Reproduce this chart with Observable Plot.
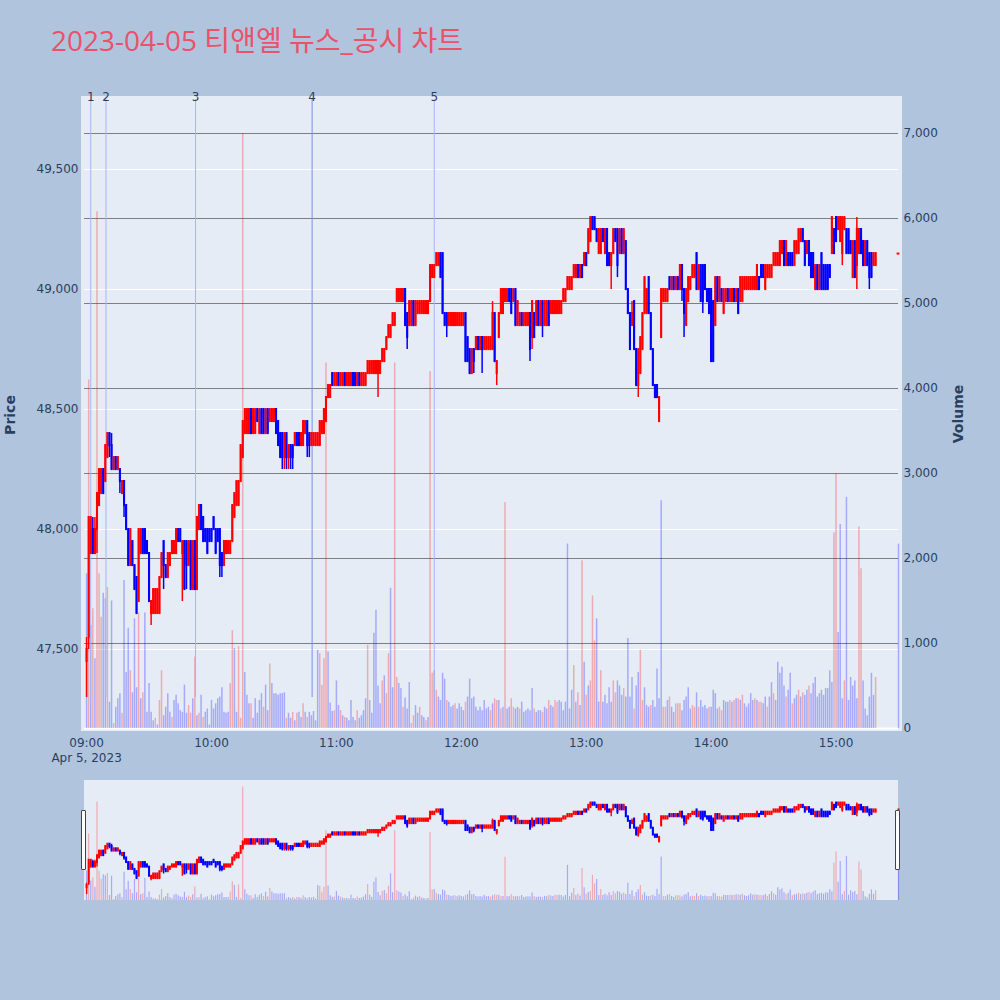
<!DOCTYPE html>
<html><head><meta charset="utf-8">
<script src="https://cdn.jsdelivr.net/npm/d3@7"></script>
<script src="https://cdn.jsdelivr.net/npm/@observablehq/plot@0.6"></script>
<style>
body{margin:0;background:#b0c4de;}
#wrap{position:relative;width:1000px;height:1000px;background:#b0c4de;overflow:hidden;font-family:"DejaVu Sans",Verdana,sans-serif;color:#2a3f5f}
.layer{position:absolute;left:0;}
.layer svg{overflow:visible;display:block}
.bg{position:absolute;background:#e5ecf6}
#title{position:absolute;left:51px;top:26px;font-family:"Open Sans","Noto Sans CJK KR",sans-serif;font-size:28px;line-height:28px;color:#ec5169;white-space:nowrap}
.atitle{position:absolute;font-weight:bold;font-size:14px;white-space:nowrap;transform:translate(-50%,-50%) rotate(-90deg)}
.handle{position:absolute;width:5px;height:60px;box-sizing:border-box;background:#fff;border:1px solid #444;border-radius:1px}
</style></head><body>
<div id="wrap">
  <div id="title"></div>
  <div class="bg" style="left:81px;top:96px;width:821px;height:635px"></div>
  <div class="bg" style="left:84px;top:780px;width:814px;height:120px"></div>
  <div class="layer" id="lA" style="top:0"></div>
  <div class="layer" id="lB" style="top:0"></div>
  <div class="layer" id="lC" style="top:0"></div>
  <div class="layer" id="sB" style="top:780px"></div>
  <div class="layer" id="sC" style="top:780px"></div>
  <div class="handle" style="left:81px;top:810px"></div>
  <div class="handle" style="left:895px;top:810px"></div>
  <div class="atitle" id="yTitle" style="left:10px;top:415px"></div>
  <div class="atitle" id="y2Title" style="left:958px;top:414px"></div>
</div>
<script>
const titleText = "2023-04-05 티앤엘 뉴스_공시 차트";
const priceLabel = "Price";
const volumeLabel = "Volume";
const dateLabel = "Apr 5, 2023";
const timeTicks = ["09:00","10:00","11:00","12:00","13:00","14:00","15:00"];
const priceTicks = [47500, 48000, 48500, 49000, 49500];
const volumeTicks = [0, 1000, 2000, 3000, 4000, 5000, 6000, 7000];
const newsTimes = ["09:02:00","09:09:20","09:52:20","10:48:20","11:47:00"];
const newsLabels = ["1","2","3","4","5"];
const sessionStart = "09:00";
const closeAuction = "15:30";

// one-minute candles 09:00..15:19, then the 15:30 closing auction
const O = [
47450,47550,47900,48000,47900,48000,48100,48150,48250,48200,
48300,48400,48350,48250,48300,48250,48250,48150,48200,48100,
48000,47850,47950,47850,47800,47700,47900,48000,48000,47950,
47900,47650,47650,47650,47650,47650,47800,47950,47850,47800,
47850,47900,47900,47900,48000,48000,47900,47950,47950,47850,
47950,47750,47950,47750,48000,48100,48050,48000,48000,48000,
48000,48050,48000,48000,48000,47900,47850,47900,47900,47900,
47950,48050,48100,48100,48200,48300,48400,48400,48400,48500,
48400,48400,48500,48400,48500,48500,48400,48500,48450,48450,
48450,48500,48450,48400,48400,48300,48400,48300,48350,48350,
48350,48400,48400,48350,48350,48400,48450,48400,48350,48350,
48350,48350,48350,48400,48400,48450,48550,48550,48650,48600,
48600,48650,48600,48600,48650,48600,48600,48600,48650,48650,
48600,48650,48600,48600,48600,48650,48650,48650,48650,48650,
48650,48650,48700,48700,48750,48800,48800,48850,48850,48950,
48950,48950,48950,49000,48900,48850,48850,48950,48850,48900,
48900,48900,48900,48900,48900,48950,49050,49050,49100,49100,
49150,49150,48900,48900,48850,48850,48850,48850,48850,48850,
48850,48850,48900,48800,48750,48650,48750,48750,48800,48750,
48800,48750,48750,48750,48750,48750,48900,48650,48800,48900,
48900,48950,48950,49000,49000,48950,49000,48850,48850,48900,
48850,48850,48850,48900,48800,48900,48850,48950,48850,48950,
48850,48850,48950,48900,48900,48900,48900,48900,48900,48950,
48950,49000,49000,49000,49050,49050,49100,49050,49100,49100,
49150,49150,49200,49300,49300,49250,49150,49150,49250,49150,
49250,49150,49100,49150,49250,49250,49150,49250,49150,49200,
49000,48900,48850,48950,48750,48600,48650,48750,48900,48900,
49050,48900,48750,48600,48600,48450,48800,48950,48950,48950,
49050,49000,49050,49000,49050,49000,49100,49000,48850,48950,
49000,49050,49050,49150,49000,49100,49100,49100,49000,49000,
49000,48950,48850,49050,48950,49000,48900,48950,49000,48950,
48950,49000,48950,49000,48950,48950,49000,49000,49000,49000,
49000,49000,49000,49050,49100,49100,49000,49050,49050,49050,
49100,49100,49100,49100,49150,49200,49100,49150,49150,49150,
49100,49150,49150,49200,49250,49200,49150,49200,49150,49150,
49000,49100,49000,49150,49100,49100,49100,49100,49150,49250,
49300,49250,49200,49150,49250,49250,49250,49200,49050,49200,
49100,49150,49250,49200,49100,49200,49150,49150,49100,49100,
49150];
const H = [
47550,48050,48050,48050,48050,48150,48250,48250,48250,48350,
48400,48400,48400,48300,48300,48300,48250,48200,48200,48100,
48000,48000,47950,47850,47800,48000,48000,48000,48000,47950,
47900,47700,47750,47750,47750,47800,47900,47950,47850,47900,
47900,47950,47950,48000,48000,48000,47950,47950,47950,47950,
47950,47950,47950,48050,48100,48100,48050,48000,48000,48000,
48000,48050,48000,48000,48000,47900,47950,47950,47950,47950,
48100,48150,48200,48200,48350,48450,48500,48500,48500,48500,
48500,48500,48500,48500,48500,48500,48500,48500,48500,48500,
48500,48500,48450,48400,48400,48400,48400,48350,48350,48350,
48400,48400,48400,48400,48450,48450,48450,48400,48400,48400,
48400,48400,48450,48450,48500,48550,48600,48600,48650,48650,
48650,48650,48650,48650,48650,48650,48650,48650,48650,48650,
48650,48650,48650,48650,48650,48700,48700,48700,48700,48700,
48700,48700,48750,48750,48800,48850,48850,48900,48900,49000,
49000,49000,49000,49000,48900,48950,48950,48950,48950,48950,
48950,48950,48950,48950,48950,49100,49100,49100,49150,49150,
49150,49150,48900,48900,48900,48900,48900,48900,48900,48900,
48900,48900,48900,48800,48750,48750,48750,48800,48800,48800,
48800,48800,48800,48800,48800,48950,48900,48700,48900,49000,
49000,49000,49000,49000,49000,49000,49000,48950,48900,48900,
48900,48900,48900,48900,48950,48900,48950,48950,48950,48950,
48950,48950,48950,48950,48950,48950,48950,48950,48950,49000,
49000,49050,49050,49050,49100,49100,49100,49100,49100,49150,
49150,49250,49300,49300,49300,49250,49250,49250,49250,49250,
49250,49150,49150,49250,49250,49250,49250,49250,49250,49200,
49000,48900,48950,48950,48750,48750,48800,48900,49050,49000,
49050,48900,48750,48600,48600,48550,49000,49000,49000,49000,
49050,49050,49050,49050,49050,49100,49100,49000,49000,49050,
49050,49100,49100,49150,49100,49100,49100,49100,49000,49000,
49000,48950,49050,49050,49050,49000,49000,49000,49000,49000,
49000,49000,49000,49000,49050,49050,49050,49050,49050,49050,
49050,49050,49100,49050,49100,49100,49100,49100,49100,49100,
49150,49150,49150,49200,49200,49200,49200,49150,49150,49150,
49200,49200,49250,49250,49250,49200,49200,49200,49150,49150,
49100,49100,49100,49150,49100,49100,49100,49100,49300,49250,
49300,49300,49300,49300,49300,49250,49250,49200,49200,49200,
49300,49250,49250,49200,49200,49200,49150,49150,49150,49150,
49150];
const L = [
47300,47500,47900,47900,47900,47900,48100,48150,48150,48200,
48300,48300,48250,48250,48250,48250,48150,48150,48050,48000,
47850,47850,47850,47750,47650,47700,47900,47900,47900,47900,
47700,47600,47650,47650,47650,47650,47800,47750,47800,47800,
47850,47900,47900,47900,47950,47950,47700,47750,47750,47850,
47750,47750,47750,47750,48000,48000,47950,47950,47900,47950,
47950,48000,47900,47950,47800,47800,47850,47900,47900,47900,
47950,48050,48100,48100,48200,48300,48400,48400,48400,48400,
48400,48400,48450,48400,48400,48400,48400,48400,48450,48450,
48450,48400,48350,48300,48250,48250,48250,48250,48250,48250,
48350,48350,48350,48350,48350,48400,48300,48300,48350,48350,
48350,48350,48350,48400,48400,48450,48550,48550,48600,48600,
48600,48600,48600,48600,48600,48600,48600,48600,48600,48600,
48600,48600,48600,48600,48600,48650,48650,48650,48650,48650,
48550,48650,48700,48700,48750,48800,48800,48850,48850,48950,
48950,48950,48950,48850,48750,48850,48850,48850,48850,48900,
48900,48900,48900,48900,48900,48950,49050,49050,49100,49100,
49050,48900,48850,48800,48850,48850,48850,48850,48850,48850,
48850,48850,48700,48700,48650,48650,48650,48750,48750,48750,
48650,48750,48750,48750,48750,48750,48700,48600,48800,48900,
48900,48950,48950,48950,48900,48950,48850,48850,48850,48850,
48850,48850,48850,48700,48750,48800,48850,48850,48850,48800,
48850,48850,48850,48900,48900,48900,48900,48900,48900,48950,
48950,49000,49000,49000,49050,49050,49050,49050,49050,49100,
49100,49150,49200,49250,49250,49200,49150,49150,49200,49150,
49100,49100,49000,49150,49200,49050,49150,49150,49150,49000,
48900,48750,48850,48750,48600,48550,48650,48750,48900,48900,
48900,48750,48600,48550,48550,48450,48800,48950,48950,48950,
49000,49000,49000,49000,49000,49000,48950,48800,48850,48950,
49000,49050,49050,49000,49000,48950,48900,49000,48950,48900,
48700,48700,48850,48950,48950,48950,48900,48950,48950,48950,
48950,48950,48950,48900,48950,48950,49000,49000,49000,49000,
49000,49000,49000,49000,49050,49050,49000,49050,49050,49050,
49100,49100,49100,49100,49150,49100,49100,49100,49100,49100,
49100,49150,49150,49200,49200,49100,49150,49100,49050,49050,
49000,49000,49000,49000,49000,49000,49000,49050,49150,49150,
49200,49250,49200,49100,49250,49150,49150,49150,49050,49050,
49000,49150,49150,49100,49100,49100,49000,49050,49100,49100,
49150];
const C = [
47500,48050,48050,47900,48000,48150,48250,48250,48150,48350,
48400,48350,48250,48300,48250,48300,48200,48200,48100,48000,
47850,48000,47850,47750,47650,48000,48000,47900,47900,47900,
47700,47700,47750,47750,47750,47800,47900,47850,47800,47900,
47900,47950,47950,48000,47950,47950,47950,47750,47850,47950,
47750,47950,47750,48050,48100,48000,47950,47950,47900,47950,
47950,48000,47900,47950,47850,47850,47950,47950,47950,47950,
48100,48150,48200,48200,48350,48450,48500,48500,48500,48400,
48500,48500,48450,48500,48400,48400,48500,48400,48500,48500,
48500,48400,48350,48300,48300,48400,48300,48350,48300,48300,
48400,48350,48350,48400,48450,48450,48350,48350,48400,48400,
48400,48400,48450,48450,48500,48550,48600,48600,48600,48650,
48650,48600,48650,48650,48600,48650,48650,48650,48600,48600,
48650,48600,48650,48650,48650,48700,48700,48700,48700,48700,
48700,48700,48750,48750,48800,48850,48850,48900,48900,49000,
49000,49000,49000,48850,48800,48950,48950,48850,48950,48950,
48950,48950,48950,48950,48950,49100,49100,49100,49150,49150,
49050,48900,48850,48850,48900,48900,48900,48900,48900,48900,
48900,48900,48700,48700,48650,48750,48700,48800,48750,48800,
48750,48800,48800,48800,48800,48900,48700,48700,48900,49000,
49000,49000,49000,48950,48900,49000,48850,48950,48900,48850,
48900,48900,48900,48750,48950,48800,48950,48850,48950,48850,
48950,48950,48850,48950,48950,48950,48950,48950,48950,49000,
49000,49050,49050,49050,49100,49100,49050,49100,49050,49150,
49100,49250,49300,49250,49250,49200,49250,49250,49200,49250,
49100,49100,49150,49250,49200,49100,49250,49150,49250,49000,
48900,48750,48900,48750,48600,48750,48800,48900,49050,49000,
48900,48750,48600,48550,48550,48550,49000,49000,49000,49000,
49000,49050,49000,49050,49000,49100,49000,48900,49000,49050,
49050,49100,49100,49000,49100,48950,48950,49000,48950,48900,
48700,48700,49050,48950,49050,48950,49000,49000,48950,49000,
49000,48950,49000,48900,49050,49050,49050,49050,49050,49050,
49050,49050,49100,49000,49050,49050,49100,49100,49100,49100,
49150,49150,49150,49200,49200,49100,49200,49100,49100,49100,
49200,49200,49250,49250,49200,49100,49200,49100,49050,49050,
49100,49000,49100,49000,49000,49000,49000,49050,49300,49150,
49200,49300,49300,49300,49300,49150,49150,49150,49200,49050,
49250,49250,49150,49100,49200,49100,49050,49050,49150,49150,
49150];
const V = [
1820,4100,1210,1410,820,6080,1820,1310,1590,1530,
1660,310,1500,60,250,350,410,180,1740,660,
1180,680,420,1290,480,1360,350,420,1360,190,
530,190,90,120,40,330,680,150,250,410,
190,130,330,390,290,210,190,510,180,270,
180,350,840,150,180,390,130,190,230,40,
330,230,290,350,370,480,190,180,190,530,
1150,940,190,960,120,7000,660,390,290,290,
120,350,180,330,410,250,510,210,760,530,
410,410,390,410,410,420,120,180,120,190,
90,180,190,130,290,190,130,190,150,200,
90,920,880,510,820,4300,900,300,200,210,
560,270,210,150,130,120,90,330,130,90,
210,120,150,210,350,980,330,180,1120,1390,
500,290,560,620,410,880,1650,480,4300,600,
530,470,250,360,230,540,60,150,270,180,
250,150,130,90,130,4200,650,680,450,370,
330,650,580,330,310,250,270,290,230,290,
250,210,310,370,580,350,370,250,210,250,
210,330,230,250,210,290,350,330,330,230,
250,2660,230,250,350,250,230,250,230,310,
190,210,230,210,470,230,190,210,210,190,
250,230,330,270,250,330,310,330,310,210,
310,2170,230,450,740,310,420,270,1975,780,
390,500,560,1560,1030,1290,310,680,310,390,
290,480,310,560,420,560,500,390,470,370,
1060,370,600,230,500,660,920,330,480,270,
250,270,330,250,700,350,2680,250,250,330,
370,250,190,290,290,290,210,330,370,480,
230,270,250,420,250,330,250,270,230,250,
250,450,410,230,250,210,330,310,310,330,
310,330,350,350,330,390,290,250,290,410,
330,350,330,310,310,290,370,250,370,540,
410,330,780,650,720,500,370,450,650,290,
350,390,450,370,420,390,450,500,410,530,
600,370,410,450,390,470,470,680,540,2300,
3000,1130,2400,350,560,2720,330,600,500,560,
350,2370,1880,560,230,150,370,650,390,600,
2170];
// volume bar side: r = red, b = blue
const volSide = (
"brbrbrrrbb"+"rbbrbbbrbb"+"brbbbrbrbb"+"bbbrbrrbbb"+"brbbbbbbbr"+
"rbrbrbrbbb"+"bbbbbbbbbr"+"rbbrrrbbbr"+"bbbbbrbbrb"+"bbbbbbrbbr"+
"brbbrbrbbb"+"bbrrrrbbbr"+"bbrbrbbbbb"+"rbbbbrbbbb"+"bbrbrrbbrr"+
"bbrbbbrrbb"+"rbbrbrrbrb"+"bbbrbbbrbb"+"bbrbbbbbbb"+"bbbbrbrrbr"+
"brbbrrbbrb"+"bbbbbrbbbr"+"bbrbbrrbbb"+"bbbbrbrbrb"+"rbrrrbbrbb"+
"bbbrrbbbrb"+"bbbrbbrrbb"+"brbbbbbrrb"+"rbbrrrbbbb"+"brrbrbbbbr"+
"bbbbrrbbbr"+"brbrbrbbbb"+"brbrrbbrbb"+"rbbbbbrbbr"+"bbrbrbbrbb"+
"bbbbbbbbbr"+"rbbbrbbbbb"+"brrbbbbbbr"+"b").split("");

const FONT = '"DejaVu Sans", Verdana, sans-serif';
const at = (hm) => { const [h, m, s = 0] = hm.split(":").map(Number); return new Date(Date.UTC(2023, 3, 5, h, m, s)); };
const t0 = at(sessionStart);
const times = O.map((_, i) => i < O.length - 1 ? d3.utcMinute.offset(t0, i) : at(closeAuction));
const candles = O.map((o, i) => ({t: times[i], o, h: H[i], l: L[i], c: C[i], up: C[i] >= o}));
const vols = V.map((v, i) => ({t: times[i], v, up: volSide[i] === "r"}));
const news = newsTimes.map((s, i) => ({t: at(s), label: newsLabels[i], i}));
const tickDates = timeTicks.map(at);

const xDomain = [d3.utcMinute.offset(t0, -1), at(closeAuction)];
const priceDomain = [47171, 49792];
const volDomain = [0, 7400];
const RED = "#ff0000", BLUE = "#0000ff";
const col = d => d.up ? RED : BLUE;

function layer(h, mt, mb, yDomain, marks) {
  return Plot.plot({
    width: 1000, height: h, marginTop: mt, marginBottom: mb, marginLeft: 84, marginRight: 102,
    style: {background: "transparent", fontFamily: FONT, fontSize: "12px", color: "#2a3f5f", overflow: "visible"},
    x: {type: "utc", domain: xDomain, axis: null},
    y: {domain: yDomain, axis: null},
    color: {type: "identity"},
    marks
  });
}

document.getElementById("title").textContent = titleText;
document.getElementById("yTitle").textContent = priceLabel;
document.getElementById("y2Title").textContent = volumeLabel;

// Layer A: price grid + axes
document.getElementById("lA").append(layer(760, 99, 32, priceDomain, [
  Plot.ruleY(priceTicks, {stroke: "#ffffff", strokeWidth: 1}),
  Plot.axisY(priceTicks, {anchor: "left", tickSize: 0, tickPadding: 6, tickFormat: d3.format(","), label: null, fill: "#2a3f5f"}),
  Plot.axisX(tickDates, {anchor: "bottom", tickSize: 0, tickPadding: 8, label: null, lineHeight: 1.25, fill: "#2a3f5f",
    tickFormat: d => (+d === +t0 ? d3.utcFormat("%H:%M")(d) + "\n" + dateLabel : d3.utcFormat("%H:%M")(d))})
]));

// Layer B: volume grid, bars, right axis
document.getElementById("lB").append(layer(760, 99, 32, volDomain, [
  Plot.ruleY(volumeTicks.filter(v => v > 0), {stroke: "#7f7f7f", strokeWidth: 1}),
  Plot.ruleY([0], {stroke: "#ffffff", strokeWidth: 2}),
  Plot.ruleX(vols, {x: "t", y1: 0, y2: "v", stroke: col, strokeOpacity: 0.28, strokeWidth: 1.5}),
  Plot.axisY(volumeTicks, {anchor: "right", tickSize: 0, tickPadding: 5, tickFormat: d3.format(","), label: null, fill: "#2a3f5f"})
]));

// Layer C: news lines, candles
const lowOfDay = d3.min(L);
document.getElementById("lC").append(layer(760, 99, 32, priceDomain, [
  Plot.ruleX(news, {x: "t", y1: lowOfDay, y2: priceDomain[1], stroke: d => d.i === 3 ? "#7f8fe0" : "#a7b5f3", strokeWidth: 1}),
  Plot.text(news, {x: "t", y: priceDomain[1], text: "label", dy: -2, fill: "#2a3f5f", fontSize: 12}),
  Plot.ruleX(candles, {x: "t", y1: "l", y2: "h", stroke: col, strokeWidth: 1.5}),
  Plot.ruleX(candles.filter(d => d.o !== d.c), {x: "t", y1: "o", y2: "c", stroke: col, strokeWidth: 2.1, strokeLinecap: "square"}),
  Plot.ruleY(candles.filter(d => d.o === d.c), {y: "c", x1: d => new Date(+d.t - 40000), x2: d => new Date(+d.t + 40000), stroke: col, strokeWidth: 2})
]));

// Range slider
document.getElementById("sB").append(layer(120, 0, 0, volDomain, [
  Plot.ruleX(vols, {x: "t", y1: 0, y2: "v", stroke: col, strokeOpacity: 0.28, strokeWidth: 1.2})
]));
document.getElementById("sC").append(layer(120, 0, 0, priceDomain, [
  Plot.ruleX(candles, {x: "t", y1: "l", y2: "h", stroke: col, strokeWidth: 1.4}),
  Plot.ruleX(candles, {x: "t", y1: "o", y2: "c", stroke: col, strokeWidth: 2, strokeLinecap: "square"})
]));
</script>
</body></html>
